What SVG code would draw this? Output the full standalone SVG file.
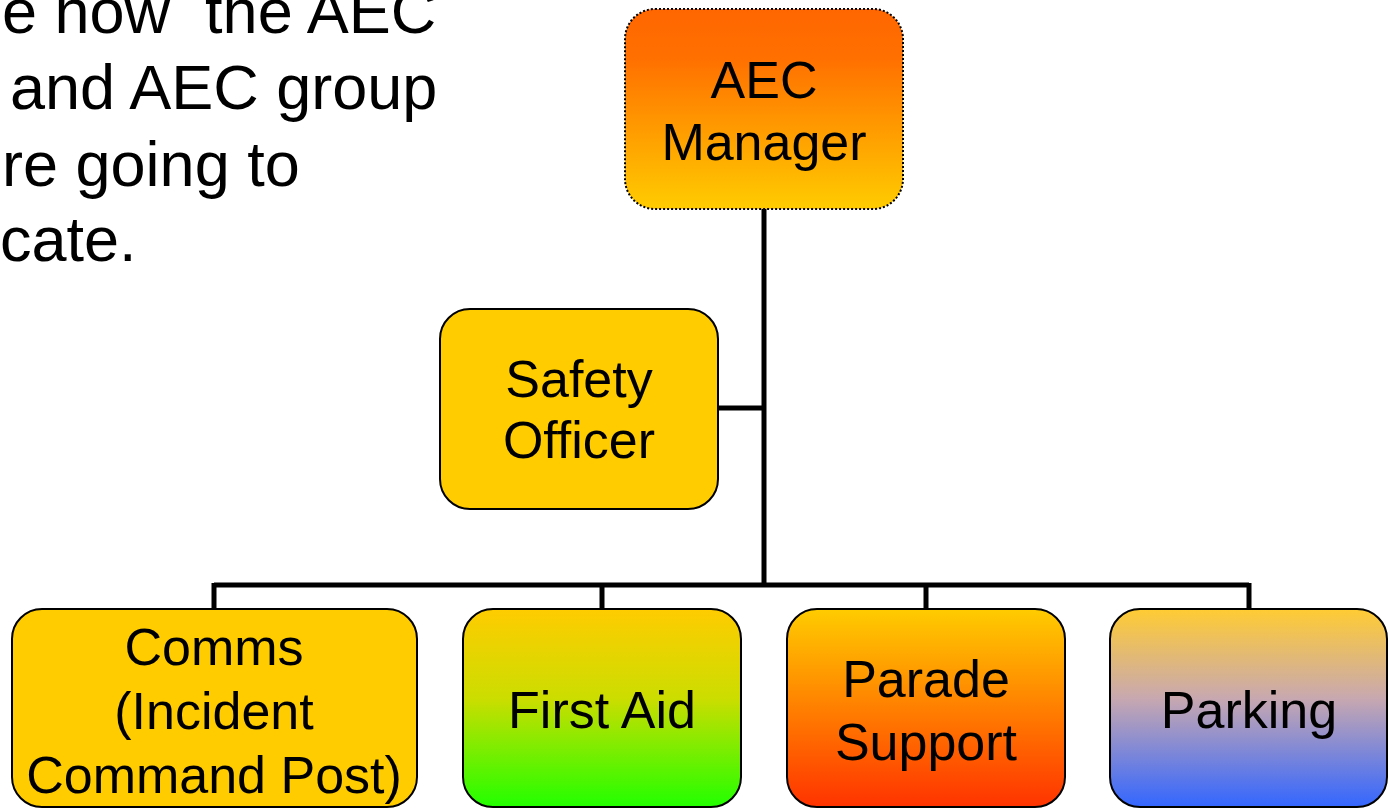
<svg xmlns="http://www.w3.org/2000/svg" width="1388" height="809" viewBox="0 0 1388 809">
<style>
text{font-family:"Liberation Sans",Arial,sans-serif;fill:#000}
.lbl{font-size:52px;text-anchor:middle}
.intro{font-size:63px;white-space:pre}
.box{stroke:#000;stroke-width:2}
.conn{stroke:#000;stroke-width:5;fill:none}
</style>
<defs>
<linearGradient id="gMgr" x1="0" y1="0" x2="0" y2="1"><stop offset="0" stop-color="#FF6600"/><stop offset="0.25" stop-color="#FF7000"/><stop offset="1" stop-color="#FFCC00"/></linearGradient>
<linearGradient id="gAid" x1="0" y1="0" x2="0" y2="1"><stop offset="0" stop-color="#FFCC00"/><stop offset="0.45" stop-color="#CCDD00"/><stop offset="1" stop-color="#22FF00"/></linearGradient>
<linearGradient id="gParade" x1="0" y1="0" x2="0" y2="1"><stop offset="0" stop-color="#FFCC00"/><stop offset="1" stop-color="#FF3300"/></linearGradient>
<linearGradient id="gPark" x1="0" y1="0" x2="0" y2="1"><stop offset="0" stop-color="#FFCC33"/><stop offset="0.45" stop-color="#C8A8B0"/><stop offset="1" stop-color="#3366FF"/></linearGradient>
</defs>
<g id="intro-text">
<text class="intro" x="2" y="33">e how  the AEC</text>
<text class="intro" x="10" y="109">and AEC group</text>
<text class="intro" x="2" y="186">re going to</text>
<text class="intro" x="0" y="261">cate.</text>
</g>
<g id="connectors">
<path class="conn" d="M764 209V585M718 408H764M214 585H1249M214 583V609M602 583V609M926 583V609M1249 583V609"/>
</g>
<g id="aec-manager">
<rect x="625" y="9" width="278" height="200" rx="30" fill="url(#gMgr)" stroke="#000" stroke-width="2" stroke-dasharray="2 2"/>
<text class="lbl" x="764" y="98">AEC</text>
<text class="lbl" x="764" y="160">Manager</text>
</g>
<g id="safety-officer">
<rect class="box" x="440" y="309" width="278" height="200" rx="30" fill="#FFCC00"/>
<text class="lbl" x="579" y="397">Safety</text>
<text class="lbl" x="579" y="458">Officer</text>
</g>
<g id="comms">
<rect class="box" x="12" y="609" width="405" height="198" rx="30" fill="#FFCC00"/>
<text class="lbl" x="214" y="665">Comms</text>
<text class="lbl" x="214" y="729">(Incident</text>
<text class="lbl" x="214" y="793">Command Post)</text>
</g>
<g id="first-aid">
<rect class="box" x="463" y="609" width="278" height="198" rx="30" fill="url(#gAid)"/>
<text class="lbl" x="602" y="728">First Aid</text>
</g>
<g id="parade-support">
<rect class="box" x="787" y="609" width="278" height="198" rx="30" fill="url(#gParade)"/>
<text class="lbl" x="926" y="697">Parade</text>
<text class="lbl" x="926" y="760">Support</text>
</g>
<g id="parking">
<rect class="box" x="1110" y="609" width="277" height="198" rx="30" fill="url(#gPark)"/>
<text class="lbl" x="1249" y="728">Parking</text>
</g>
</svg>
